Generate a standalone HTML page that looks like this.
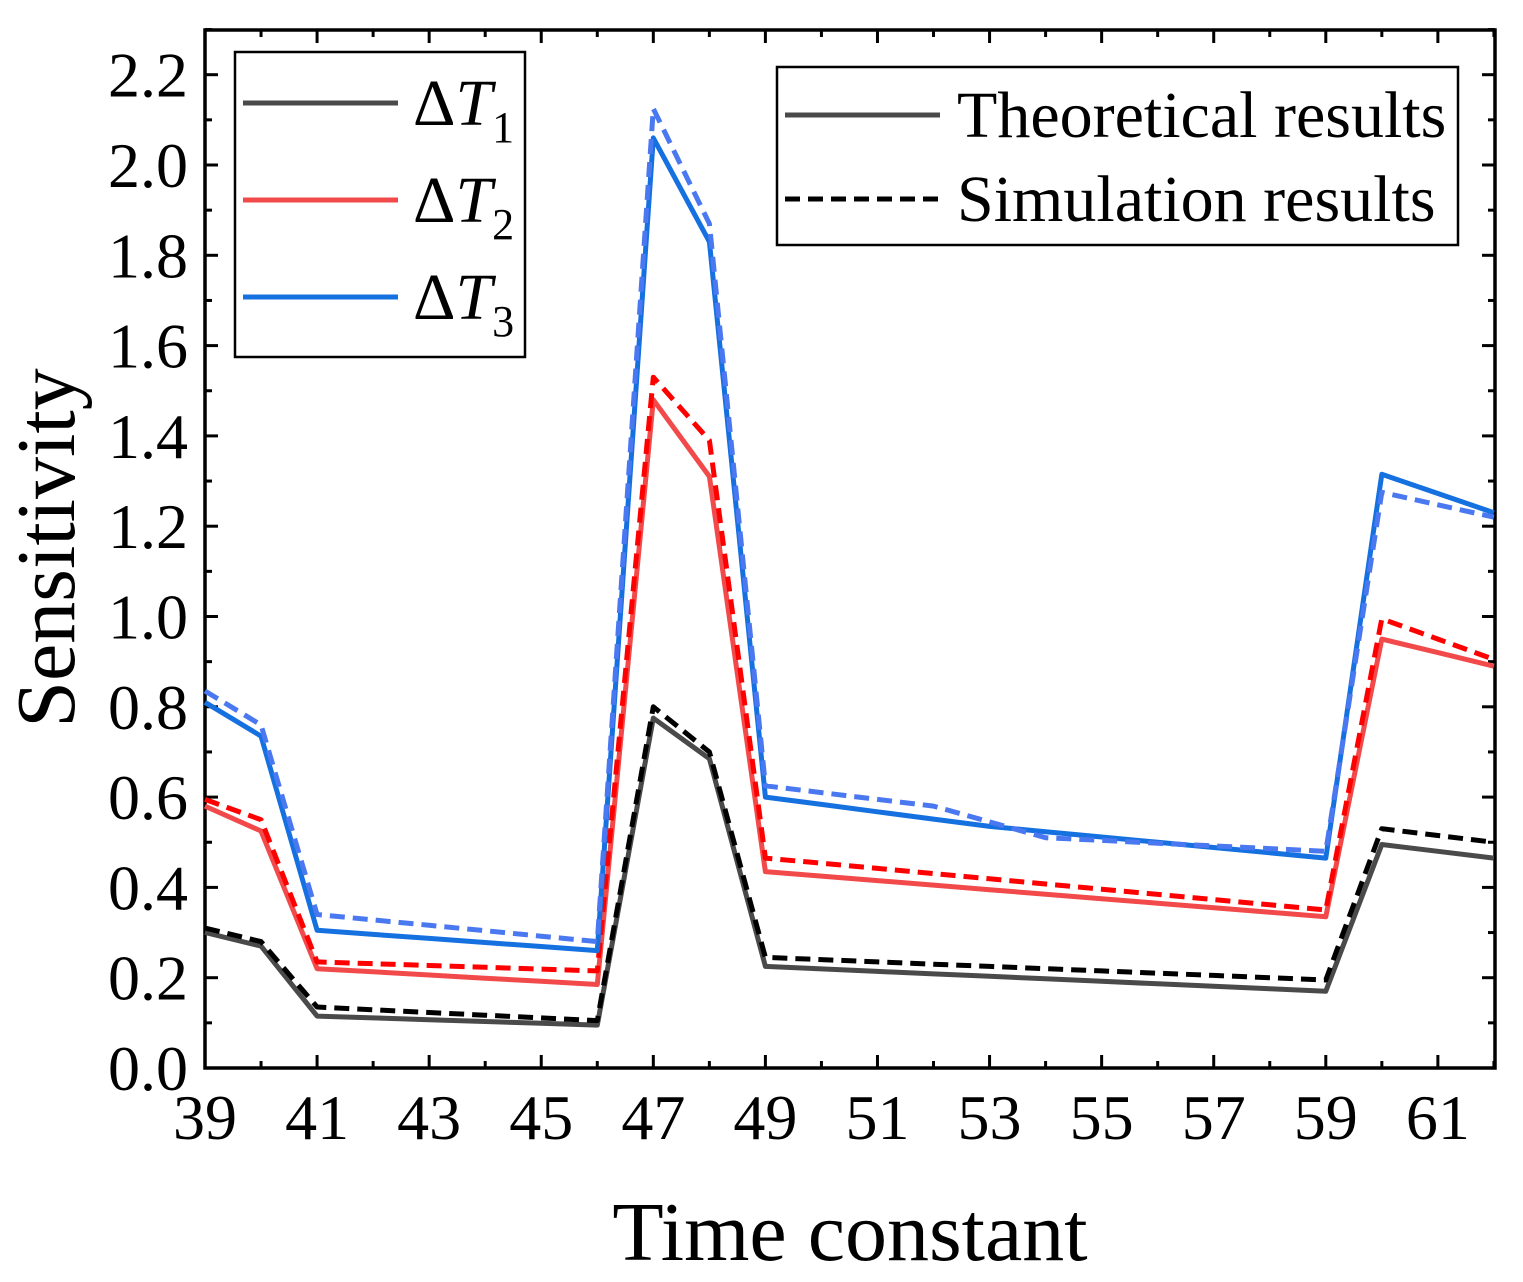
<!DOCTYPE html>
<html><head><meta charset="utf-8"><style>
html,body{margin:0;padding:0;background:#fff}
svg{display:block}
text{font-family:"Liberation Serif",serif;fill:#000}
</style></head><body>
<svg id="s" width="1523" height="1282" viewBox="0 0 1523 1282" xmlns="http://www.w3.org/2000/svg"></svg>
<script>
const s=document.getElementById('s');
const L=205,R=1495,T=30,B=1068;
const X=v=>L+(v-39)*56.04, Y=v=>B-v*451.5;
let h='';
h+=`<rect x="${L}" y="${T}" width="${R-L}" height="${B-T}" fill="none" stroke="#000" stroke-width="3.5"/>`;
for(let i=0;i<=23;i++){const v=i*0.1,y=Y(v),maj=i%2==0,l=maj?13:7;
 h+=`<line x1="${L}" y1="${y}" x2="${L+l}" y2="${y}" stroke="#000" stroke-width="3"/>`;
 h+=`<line x1="${R}" y1="${y}" x2="${R-l}" y2="${y}" stroke="#000" stroke-width="3"/>`;
 if(maj&&i<=22)h+=`<text x="188" y="${y+22}" font-size="64" text-anchor="end">${v.toFixed(1)}</text>`;}
for(let v=39;v<=62;v++){const x=X(v),maj=(v%2==1),l=maj?13:7;
 h+=`<line x1="${x}" y1="${B}" x2="${x}" y2="${B-l}" stroke="#000" stroke-width="3"/>`;
 h+=`<line x1="${x}" y1="${T}" x2="${x}" y2="${T+l}" stroke="#000" stroke-width="3"/>`;
 if(maj)h+=`<text x="${x}" y="1139" font-size="64" text-anchor="middle">${v}</text>`;}
h+=`<text x="850" y="1260" font-size="84" text-anchor="middle">Time constant</text>`;
h+=`<text transform="translate(74,548) rotate(-90)" font-size="84" text-anchor="middle">Sensitivity</text>`;
function interp(pts){const out=[];for(let i=0;i<pts.length-1;i++){const[a,va]=pts[i],[b,vb]=pts[i+1];for(let x=a;x<b;x++)out.push([x,va+(vb-va)*(x-a)/(b-a)]);}out.push(pts[pts.length-1]);return out;}
function line(pts,c,dash){const p=interp(pts).map(([x,v])=>X(x).toFixed(1)+','+Y(v).toFixed(1)).join(' ');
 h+=`<polyline points="${p}" fill="none" stroke="${c}" stroke-width="5" stroke-linejoin="round" ${dash?'stroke-dasharray="15,8"':''}/>`;}
const d={
t1:[[39,.30],[40,.27],[41,.115],[46,.095],[47,.775],[48,.685],[49,.225],[59,.17],[60,.495],[62,.465]],
s1:[[39,.31],[40,.28],[41,.135],[46,.105],[47,.80],[48,.70],[49,.245],[59,.195],[60,.53],[62,.50]],
t2:[[39,.58],[40,.525],[41,.22],[46,.185],[47,1.48],[48,1.31],[49,.435],[59,.335],[60,.95],[62,.89]],
s2:[[39,.595],[40,.55],[41,.235],[46,.215],[47,1.53],[48,1.39],[49,.465],[59,.35],[60,.995],[62,.905]],
t3:[[39,.81],[40,.735],[41,.305],[46,.26],[47,2.06],[48,1.83],[49,.60],[53,.535],[59,.465],[60,1.315],[62,1.23]],
s3:[[39,.835],[40,.76],[41,.34],[46,.28],[47,2.125],[48,1.87],[49,.625],[52,.58],[54,.51],[59,.48],[60,1.275],[62,1.22]]};
line(d.t1,'#4a4a4a');line(d.s1,'#000',1);
line(d.t2,'#f24a4a');line(d.s2,'#f00',1);
line(d.t3,'#1570e0');line(d.s3,'#4a78f0',1);
h+=`<rect x="235" y="52" width="290" height="305" fill="#fff" stroke="#000" stroke-width="2.5"/>`;
[['#4a4a4a',103,'1'],['#f24a4a',200,'2'],['#1570e0',297,'3']].forEach(([c,y,n])=>{
 h+=`<line x1="243" y1="${y}" x2="398" y2="${y}" stroke="${c}" stroke-width="5"/>`;
 h+=`<text x="413" y="${y+22}" font-size="66">Δ<tspan font-style="italic">T</tspan><tspan font-size="44" dy="17">${n}</tspan></text>`;});
h+=`<rect x="777" y="67" width="681" height="178" fill="#fff" stroke="#000" stroke-width="2.5"/>`;
h+=`<line x1="785" y1="115" x2="940" y2="115" stroke="#4a4a4a" stroke-width="5"/>`;
h+=`<text x="957" y="137" font-size="66">Theoretical results</text>`;
h+=`<line x1="785" y1="199" x2="940" y2="199" stroke="#000" stroke-width="5" stroke-dasharray="15,8"/>`;
h+=`<text x="957" y="221" font-size="66">Simulation results</text>`;
s.innerHTML=h;
</script>
</body></html>
